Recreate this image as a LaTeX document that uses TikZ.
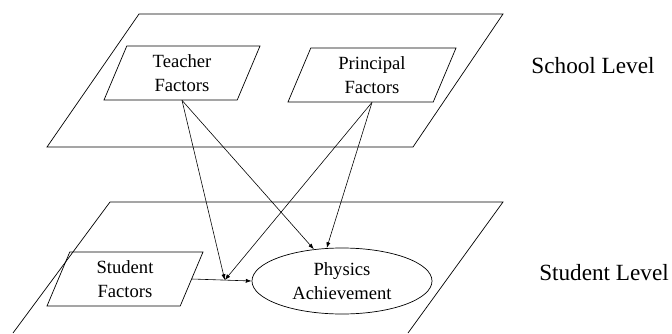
\documentclass[tikz,border=0pt]{standalone}
\usepackage{fontspec}
\setmainfont{Liberation Serif}
\usetikzlibrary{arrows.meta, shapes.geometric}

\begin{document}
\begin{tikzpicture}[
  x=0.03cm, y=-0.03cm,
  line width=0.6pt,
  plane/.style={draw},
  factor/.style={
    trapezium, draw, trapezium left angle=60, trapezium right angle=120,
    trapezium stretches body=true,
    minimum width=4.68cm, minimum height=1.62cm, inner sep=1pt,
    align=center, font=\fontsize{15.9}{20.5}\selectfont
  },
  outcome/.style={
    ellipse, draw, minimum width=5.4cm, minimum height=1.98cm, inner sep=0pt,
    align=center, font=\fontsize{15.9}{20.5}\selectfont
  },
  lvl/.style={font=\fontsize{19.8}{24}\selectfont},
  arr/.style={-{Latex[length=5pt,width=3.5pt]}, line width=0.5pt}
]
\useasboundingbox (0,0) rectangle (672,333);

% the two levels
\draw[plane] (139,14) -- (503,14) -- (413,147) -- (47,147) -- cycle;
\draw[plane] (13,333) -- (110,202) -- (503,202) -- (408,333);

\node[lvl] (school) at (593,66) {School Level};
\node[lvl] (studlvl) at (604,273) {Student Level};

\node[factor] (teacher) at (182,73) {Teacher\\Factors};
\node[factor, minimum width=5.04cm] (principal) at (372,75) {Principal\\Factors};
\node[factor] (student) at (125,279) {Student\\Factors};
\node[outcome] (phys) at (342,281) {Physics\\Achievement};

\draw[arr] (student.east) -- (phys.west) coordinate[pos=0.55] (mod);
\draw[arr] (teacher.south) -- (mod);
\draw[arr] (teacher.south) -- (phys);
\draw[arr] (principal.south) -- (mod);
\draw[arr] (principal.south) -- (phys.115);

\end{tikzpicture}
\end{document}
